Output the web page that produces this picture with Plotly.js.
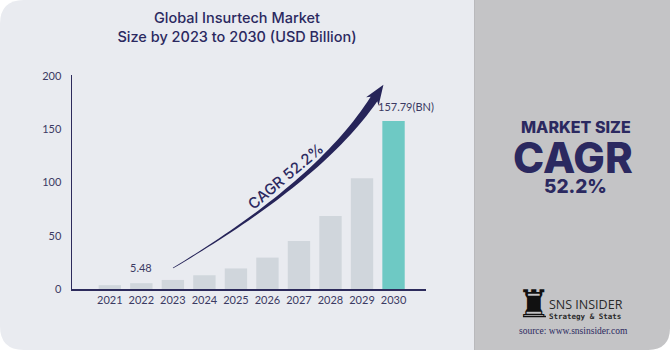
<!DOCTYPE html>
<html>
<head>
<meta charset="utf-8">
<script src="https://cdn.plot.ly/plotly-3.0.1.min.js"></script>
<style>html,body{margin:0;padding:0;background:#fff;}#chart{width:670px;height:350px;}</style>
</head>
<body>
<div id="chart"></div>
<script>
// ---- data ----
const years = ['2021','2022','2023','2024','2025','2026','2027','2028','2029','2030'];
const marketSize = [3.6, 5.48, 8.5, 12.9, 19.3, 29.5, 45.0, 68.5, 104.0, 157.79];
const yTicks = [0, 50, 100, 150, 200];
const labelFirst = '5.48';
const labelLast = '157.79(BN)';
const cagrText = 'CAGR 52.2%';

// ---- geometry helpers (pixel -> paper) ----
const W = 670, H = 350;
const M = {l: 72, r: 244, t: 75, b: 61};
const PW = W - M.l - M.r, PH = H - M.t - M.b;
const X = px => (px - M.l) / PW;
const Y = py => (H - M.b - py) / PH;
const P = (px, py) => X(px).toFixed(5) + ',' + Y(py).toFixed(5);

const navy = '#2b2960';
const tickColor = '#3b3a63';
const barColors = years.map((y, i) => i === years.length - 1 ? '#6ec9c4' : '#d0d6dc');

// panels
const r1 = 24;
const leftPanel = 'M ' + P(r1, 0) + ' L ' + P(474, 0) + ' L ' + P(474, H) + ' L ' + P(r1, H) +
  ' Q ' + P(0, H) + ' ' + P(0, H - r1) + ' L ' + P(0, r1) + ' Q ' + P(0, 0) + ' ' + P(r1, 0) + ' Z';
const r2 = 22;
const rightPanel = 'M ' + P(474, 0) + ' L ' + P(W, 0) + ' L ' + P(W, H - r2) +
  ' Q ' + P(W, H) + ' ' + P(W - r2, H) + ' L ' + P(474, H) + ' Z';

// swoosh arrow
function cubic(p0, p1, p2, p3, t) {
  const u = 1 - t;
  return [u*u*u*p0[0] + 3*u*u*t*p1[0] + 3*u*t*t*p2[0] + t*t*t*p3[0],
          u*u*u*p0[1] + 3*u*u*t*p1[1] + 3*u*t*t*p2[1] + t*t*t*p3[1]];
}
const A0 = [173, 268], A1 = [250, 222], A2 = [330, 165], A3 = [374, 99];
const left = [], right = [];
const N = 40;
for (let i = 0; i <= N; i++) {
  const t = i / N;
  const p = cubic(A0, A1, A2, A3, t);
  const q = cubic(A0, A1, A2, A3, Math.min(1, t + 0.01));
  const q0 = cubic(A0, A1, A2, A3, Math.max(0, t - 0.01));
  let dx = q[0] - q0[0], dy = q[1] - q0[1];
  const len = Math.hypot(dx, dy); dx /= len; dy /= len;
  const nx = -dy, ny = dx;
  const w = 0.4 + 3.6 * Math.pow(t, 1.4);
  left.push([p[0] + nx * w, p[1] + ny * w]);
  right.push([p[0] - nx * w, p[1] - ny * w]);
}
let dx = A3[0] - A2[0], dy = A3[1] - A2[1];
let ln = Math.hypot(dx, dy); dx /= ln; dy /= ln;
const nx = -dy, ny = dx;
const tip = [A3[0] + dx * 17, A3[1] + dy * 17];
const hb1 = [A3[0] + nx * 7.5 - dx * 3, A3[1] + ny * 7.5 - dy * 3];
const hb2 = [A3[0] - nx * 7.5 - dx * 3, A3[1] - ny * 7.5 - dy * 3];
let arrow = 'M ' + P(...left[0]);
for (let i = 1; i < left.length; i++) arrow += ' L ' + P(...left[i]);
arrow += ' L ' + P(...hb1) + ' L ' + P(...tip) + ' L ' + P(...hb2);
for (let i = right.length - 1; i >= 0; i--) arrow += ' L ' + P(...right[i]);
arrow += ' Z';

const trace = {
  type: 'bar',
  x: years,
  y: marketSize,
  marker: {color: barColors},
  width: 0.71,
  hoverinfo: 'x+y'
};

function note(px, py, text, font, extra) {
  return Object.assign({x: X(px), y: Y(py), xref: 'paper', yref: 'paper', text: text,
    showarrow: false, xanchor: 'center', yanchor: 'middle', font: font}, extra || {});
}

const layout = {
  width: W, height: H,
  margin: M,
  paper_bgcolor: '#ffffff',
  plot_bgcolor: 'rgba(0,0,0,0)',
  showlegend: false,
  font: {family: 'Lato, "Open Sans", sans-serif', color: tickColor, size: 11},
  title: {
    text: 'Global Insurtech Market<br>Size by 2023 to 2030 (USD Billion)',
    x: 237 / W, xanchor: 'center', xref: 'container',
    y: 1 - 23 / H, yanchor: 'top', yref: 'container',
    font: {family: 'Inter, "Open Sans", sans-serif', size: 14.5, color: navy, weight: 500}
  },
  xaxis: {
    type: 'category',
    range: [-1.2, 10.03],
    showline: true, linecolor: '#2d2b5c', linewidth: 1.5,
    showgrid: false, zeroline: false, ticks: '',
    tickfont: {size: 11, color: tickColor},
    fixedrange: true
  },
  yaxis: {
    range: [0, 201],
    tickvals: yTicks,
    showline: true, linecolor: '#2d2b5c', linewidth: 1.5,
    showgrid: false, zeroline: false, ticks: '',
    ticklabelstandoff: 7,
    tickfont: {size: 11, color: tickColor},
    fixedrange: true
  },
  shapes: [
    {type: 'path', xref: 'paper', yref: 'paper', path: leftPanel, fillcolor: '#e9ebf0', line: {width: 0}, layer: 'below'},
    {type: 'path', xref: 'paper', yref: 'paper', path: rightPanel, fillcolor: '#c4c4c6', line: {width: 0}, layer: 'below'},
    {type: 'line', xref: 'paper', yref: 'paper', x0: X(474.5), x1: X(474.5), y0: Y(0), y1: Y(H), line: {color: '#b9b9bc', width: 1}, layer: 'below'},
    {type: 'path', xref: 'paper', yref: 'paper', path: arrow, fillcolor: '#262459', line: {width: 0}, layer: 'above'},
    {type: 'line', xref: 'paper', yref: 'paper', x0: X(523), x1: X(546), y0: Y(316.5), y1: Y(316.5), line: {color: '#1a1a1a', width: 1.5}}
  ],
  annotations: [
    {x: 1, y: marketSize[1], xref: 'x', yref: 'y', text: labelFirst, showarrow: false,
     xanchor: 'center', yanchor: 'bottom', yshift: 7, font: {size: 11, color: tickColor}},
    {x: 9, y: marketSize[9], xref: 'x', yref: 'y', text: labelLast, showarrow: false,
     xanchor: 'center', yanchor: 'bottom', xshift: 12, yshift: 6, font: {size: 11, color: tickColor}},
    note(285, 176, cagrText, {family: 'Inter, "Open Sans", sans-serif', size: 15, color: navy, weight: 500}, {textangle: -40}),
    note(576, 127, 'MARKET SIZE', {family: 'Inter, "Open Sans", sans-serif', size: 16, color: navy, weight: 800}),
    note(573, 157, 'CAGR', {family: 'Inter, "Open Sans", sans-serif', size: 42, color: navy, weight: 800}),
    note(575, 186, '52.2%', {family: 'Inter, "Open Sans", sans-serif', size: 19, color: navy, weight: 800}),
    note(534, 304, '♜', {family: 'DejaVu Sans, sans-serif', size: 38, color: '#111111'}),
    note(547, 304, 'SNS INSIDER', {family: '"Open Sans", sans-serif', size: 12.5, color: '#2a2a2a', weight: 500}, {xanchor: 'left'}),
    note(547, 316, 'Strategy & Stats', {family: '"DejaVu Sans Mono", monospace', size: 7.5, color: '#2a2a2a', weight: 700}, {xanchor: 'left'}),
    note(573, 331, 'source: www.snsinsider.com', {family: '"Liberation Serif", "DejaVu Serif", serif', size: 9.5, color: '#2b2960'})
  ]
};

Plotly.newPlot('chart', [trace], layout, {displayModeBar: false, staticPlot: true});
</script>
</body>
</html>
